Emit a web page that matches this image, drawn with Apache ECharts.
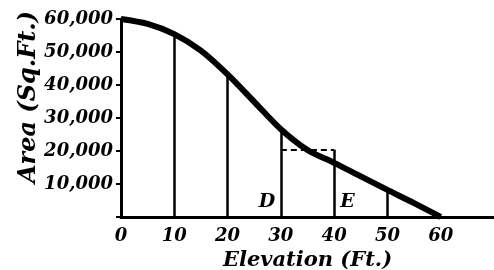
<!DOCTYPE html>
<html>
<head>
<meta charset="utf-8">
<script src="https://cdn.jsdelivr.net/npm/echarts@6/dist/echarts.min.js"></script>
<style>
  html, body { margin: 0; padding: 0; background: #fff; }
  #chart { width: 494px; height: 270px; }
</style>
</head>
<body>
<div id="chart"></div>
<script>
// elevation (ft) vs area (sq ft), every 5 ft
var elevation = [0, 5, 10, 15, 20, 25, 30, 35, 40, 45, 50, 55, 60];
var area = [60000, 58500, 55400, 50400, 43200, 34900, 26600, 20300, 16400, 12300, 8200, 4200, 0];
var xTicks = ['0', '10', '20', '30', '40', '50', '60'];
var yTicks = ['', '10,000', '20,000', '30,000', '40,000', '50,000', '60,000'];

// ordinates drawn up from the base
var ordX = [10, 20, 30, 40, 50];
var ordTop = [55400, 43200, 26600, 20400, 8200];

// dashed rectangle top between D and E
var rectX = [30, 40];
var rectY = 20400;

var letters = [
    { name: 'D', x: 27.4, y: 4400 },
    { name: 'E', x: 42.5, y: 4400 }
];

var font = 'DejaVu Serif';

var myChart = echarts.init(document.getElementById('chart'));

var ordLines = [];
for (var i = 0; i < ordX.length; i++) {
    ordLines.push([{ coord: [ordX[i], 0] }, { coord: [ordX[i], ordTop[i]] }]);
}
ordLines.push([
    { coord: [rectX[0], rectY], lineStyle: { type: [6, 4], width: 2 } },
    { coord: [rectX[1], rectY] }
]);

var curveData = [];
for (var i = 0; i < elevation.length; i++) {
    curveData.push([elevation[i], area[i]]);
}

var option = {
    backgroundColor: '#fff',
    animation: false,
    grid: { left: 121, top: 19, right: 0, bottom: 53, outerBoundsMode: 'none' },
    xAxis: {
        type: 'value',
        min: 0, max: 70, interval: 10,
        name: 'Elevation (Ft.)',
        nameLocation: 'middle',
        nameGap: 31,
        nameTextStyle: { fontFamily: font, fontStyle: 'italic', fontWeight: 'bold', fontSize: 21, color: '#000' },
        axisLine: { lineStyle: { color: '#000', width: 3 } },
        axisTick: { show: false },
        splitLine: { show: false },
        axisLabel: {
            margin: 10,
            fontFamily: font, fontStyle: 'italic', fontWeight: 'bold', fontSize: 18, color: '#000',
            formatter: function (v) { return xTicks[v / 10] || ''; }
        }
    },
    yAxis: {
        type: 'value',
        min: 0, max: 60000, interval: 10000,
        axisLine: { show: true, lineStyle: { color: '#000', width: 3 } },
        axisTick: { show: true, length: 5, lineStyle: { color: '#000', width: 2 } },
        splitLine: { show: false },
        axisLabel: {
            margin: 8,
            fontFamily: font, fontStyle: 'italic', fontWeight: 'bold', fontSize: 18, color: '#000',
            formatter: function (v) { return yTicks[v / 10000]; }
        }
    },
    graphic: [{
        type: 'text',
        left: 17, top: 11,
        rotation: Math.PI / 2,
        style: {
            text: 'Area (Sq.Ft.)',
            font: 'italic bold 24px "DejaVu Serif"',
            fill: '#000'
        }
    }],
    series: [
        {
            type: 'line',
            data: curveData,
            smooth: 0.3,
            symbol: 'none',
            lineStyle: { color: '#000', width: 6 },
            markLine: {
                silent: true,
                symbol: 'none',
                label: { show: false },
                lineStyle: { color: '#000', width: 2.5, type: 'solid' },
                data: ordLines
            }
        },
        {
            type: 'scatter',
            symbolSize: 0,
            itemStyle: { opacity: 1 },
            data: letters.map(function (d) { return { name: d.name, value: [d.x, d.y] }; }),
            label: {
                show: true,
                position: 'inside',
                formatter: '{b}',
                opacity: 1,
                fontFamily: font, fontStyle: 'italic', fontWeight: 'bold', fontSize: 19, color: '#000'
            }
        }
    ]
};

myChart.setOption(option);
</script>
</body>
</html>
